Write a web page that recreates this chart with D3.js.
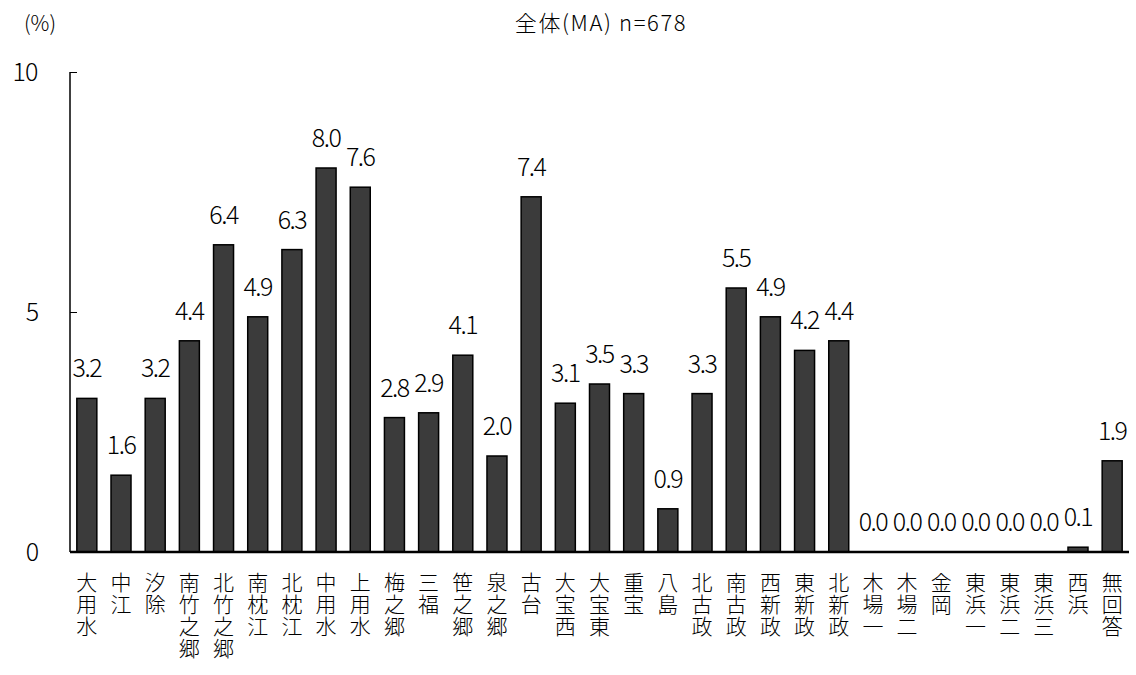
<!DOCTYPE html>
<html>
<head>
<meta charset="utf-8">
<script src="https://cdn.jsdelivr.net/npm/d3@7"></script>
<style>
  html, body { margin: 0; padding: 0; background: #fff; }
  svg text { font-family: "Noto Sans CJK JP", "Noto Sans", sans-serif; fill: #000; }
  .cat { writing-mode: vertical-rl; text-orientation: upright; }
</style>
</head>
<body>
<svg id="chart" width="1136" height="675"></svg>
<script>
// Areas surveyed (multiple answers allowed), share of respondents in %
const categories = [
  "大用水", "中江", "汐除", "南竹之郷", "北竹之郷", "南枕江", "北枕江", "中用水",
  "上用水", "梅之郷", "三福", "笹之郷", "泉之郷", "古台", "大宝西", "大宝東",
  "重宝", "八島", "北古政", "南古政", "西新政", "東新政", "北新政", "木場一",
  "木場二", "金岡", "東浜一", "東浜二", "東浜三", "西浜", "無回答"
];
const values = [
  3.2, 1.6, 3.2, 4.4, 6.4, 4.9, 6.3, 8.0,
  7.6, 2.8, 2.9, 4.1, 2.0, 7.4, 3.1, 3.5,
  3.3, 0.9, 3.3, 5.5, 4.9, 4.2, 4.4, 0.0,
  0.0, 0.0, 0.0, 0.0, 0.0, 0.1, 1.9
];
const yTicks = [0, 5, 10];
const title = "全体(MA) n=678";
const unitLabel = "(%)";

const svg = d3.select("#chart");
const plotLeft = 70, plotRight = 1129, plotTop = 72, plotBottom = 552;

const x = d3.scaleBand()
  .domain(categories)
  .range([plotLeft, plotRight])
  .paddingInner(0.415)
  .paddingOuter(0.2);

const y = d3.scaleLinear().domain([0, 10]).range([plotBottom, plotTop]);

// Title and unit
svg.append("text")
  .attr("x", 601).attr("y", 31)
  .attr("text-anchor", "middle")
  .attr("font-size", 22)
  .attr("font-weight", 300)
  .attr("letter-spacing", 1.6)
  .text(title);

svg.append("text")
  .attr("x", 40).attr("y", 31)
  .attr("text-anchor", "middle")
  .attr("font-size", 21)
  .attr("font-weight", 300)
  .text(unitLabel);

// Y axis: short inward ticks, labels set off to the left
const yAxis = d3.axisRight(y).tickValues(yTicks).tickSize(7).tickFormat("");
const gy = svg.append("g").attr("transform", `translate(${plotLeft},0)`).call(yAxis);
gy.select(".domain").attr("stroke", "#000").attr("stroke-width", 1.5)
  .attr("d", `M0,${plotTop}V${plotBottom}`);
gy.selectAll(".tick line").attr("stroke", "#000").attr("stroke-width", 1);

svg.append("g").selectAll("text")
  .data(yTicks)
  .join("text")
  .attr("x", d => d === 10 ? 25 : 32)
  .attr("y", d => y(d) + 9)
  .attr("text-anchor", "middle")
  .attr("font-size", 25)
  .attr("font-weight", 300)
  .attr("letter-spacing", -1)
  .text(d => d);

// Bars
svg.append("g").selectAll("rect")
  .data(values)
  .join("rect")
  .attr("x", (d, i) => x(categories[i]))
  .attr("y", d => y(d))
  .attr("width", x.bandwidth())
  .attr("height", d => plotBottom - y(d))
  .attr("fill", "#3b3b3b")
  .attr("stroke", "#000")
  .attr("stroke-width", 1.5);

// Baseline
svg.append("line")
  .attr("x1", plotLeft).attr("x2", plotRight)
  .attr("y1", plotBottom).attr("y2", plotBottom)
  .attr("stroke", "#000").attr("stroke-width", 2.5);

// Value labels above bars
svg.append("g").selectAll("text")
  .data(values)
  .join("text")
  .attr("x", (d, i) => x(categories[i]) + x.bandwidth() / 2)
  .attr("y", d => y(d) - 21)
  .attr("text-anchor", "middle")
  .attr("font-size", 25)
  .attr("font-weight", 300)
  .attr("letter-spacing", -1.5)
  .text(d => d.toFixed(1));

// Category labels, set vertically (top to bottom)
svg.append("g").selectAll("text")
  .data(categories)
  .join("text")
  .attr("class", "cat")
  .attr("text-anchor", "start")
  .attr("font-size", 21)
  .attr("font-weight", 300)
  .attr("letter-spacing", 0.7)
  .attr("x", d => x(d) + x.bandwidth() / 2)
  .attr("y", 572)
  .text(d => d);
</script>
</body>
</html>
